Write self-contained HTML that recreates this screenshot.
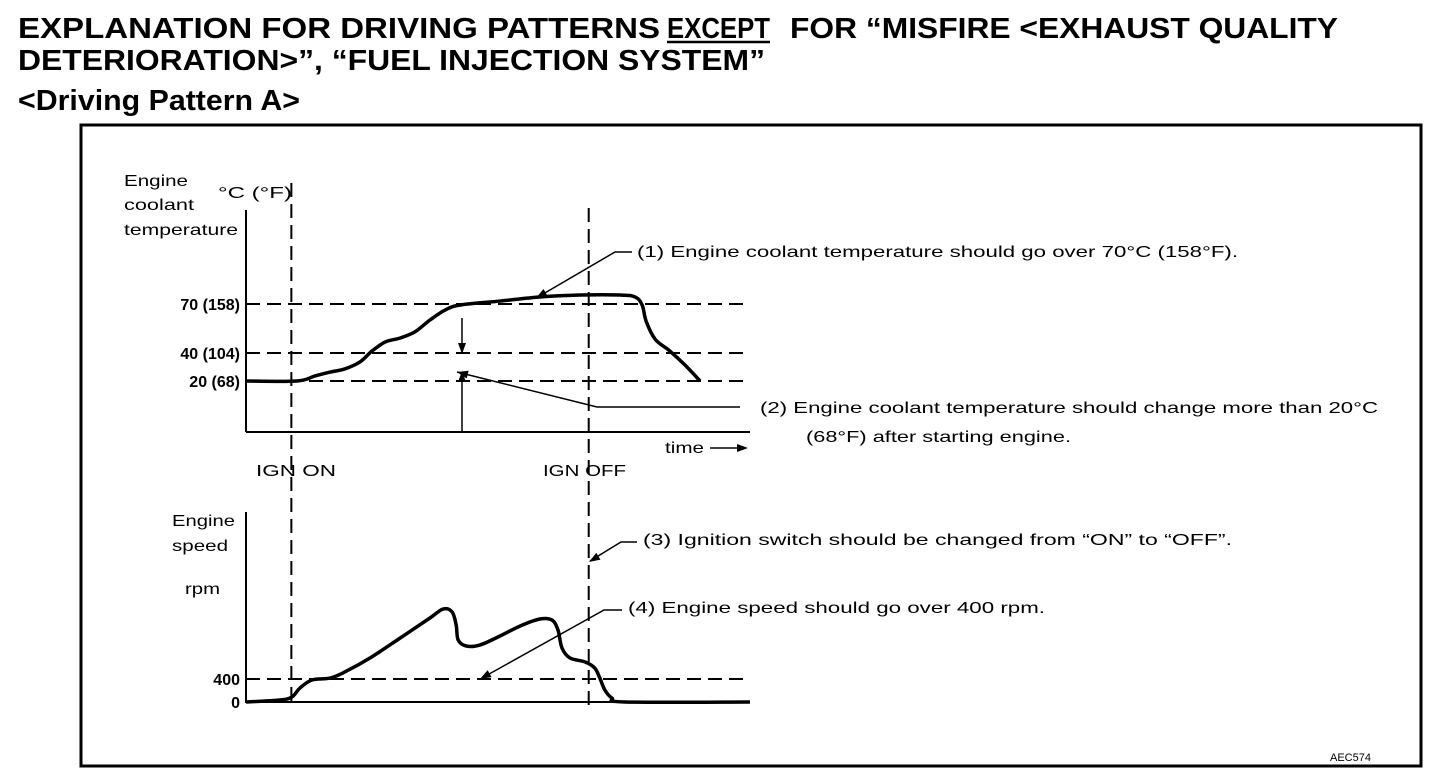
<!DOCTYPE html>
<html><head><meta charset="utf-8"><style>
html,body{margin:0;padding:0;background:#fff;}
svg{display:block;}
text{font-family:"Liberation Sans",sans-serif;fill:#000;}
.t{font-weight:bold;font-size:29px;}
.lb{font-size:16px;}
.tk{font-size:16px;font-weight:bold;}
</style></head><body>
<svg id="chart" width="1456" height="784" viewBox="0 0 1456 784" xmlns="http://www.w3.org/2000/svg">
<g>
<text class="t" x="18" y="38" textLength="642" lengthAdjust="spacingAndGlyphs">EXPLANATION FOR DRIVING PATTERNS</text>
<text class="t" x="667" y="38" textLength="103" lengthAdjust="spacingAndGlyphs">EXCEPT</text>
<line x1="667" y1="42" x2="770" y2="42" stroke="#000" stroke-width="2.5"/>
<text class="t" x="790" y="38" textLength="548" lengthAdjust="spacingAndGlyphs">FOR “MISFIRE &lt;EXHAUST QUALITY</text>
<text class="t" x="18" y="70" textLength="747" lengthAdjust="spacingAndGlyphs">DETERIORATION&gt;”, “FUEL INJECTION SYSTEM”</text>
<text class="t" x="18" y="110" textLength="282" lengthAdjust="spacingAndGlyphs">&lt;Driving Pattern A&gt;</text>
</g>
<rect x="81" y="125" width="1340" height="641" fill="none" stroke="#000" stroke-width="3"/>
<g id="marks"></g>
<text class="lb" x="124" y="186" textLength="64" lengthAdjust="spacingAndGlyphs">Engine</text>
<text class="lb" x="124" y="210" textLength="70" lengthAdjust="spacingAndGlyphs">coolant</text>
<text class="lb" x="124" y="235" textLength="114" lengthAdjust="spacingAndGlyphs">temperature</text>
<text class="lb" x="218" y="198" textLength="74" lengthAdjust="spacingAndGlyphs">°C (°F)</text>
<text class="lb" x="665" y="453" textLength="39" lengthAdjust="spacingAndGlyphs">time</text>
<text class="lb" x="256" y="476" textLength="80" lengthAdjust="spacingAndGlyphs">IGN ON</text>
<text class="lb" x="543" y="476" textLength="83" lengthAdjust="spacingAndGlyphs">IGN OFF</text>
<text class="lb" x="172" y="526" textLength="63" lengthAdjust="spacingAndGlyphs">Engine</text>
<text class="lb" x="172" y="551" textLength="56" lengthAdjust="spacingAndGlyphs">speed</text>
<text class="lb" x="185" y="594" textLength="35" lengthAdjust="spacingAndGlyphs">rpm</text>
<text class="lb" x="637" y="257" textLength="601" lengthAdjust="spacingAndGlyphs">(1)    Engine coolant temperature should go over 70°C (158°F).</text>
<text class="lb" x="760" y="413" textLength="618" lengthAdjust="spacingAndGlyphs">(2)    Engine coolant temperature should change more than 20°C</text>
<text class="lb" x="806" y="442" textLength="265" lengthAdjust="spacingAndGlyphs">(68°F) after starting engine.</text>
<text class="lb" x="643" y="545" textLength="589" lengthAdjust="spacingAndGlyphs">(3)    Ignition switch should be changed from “ON” to “OFF”.</text>
<text class="lb" x="628" y="613" textLength="417" lengthAdjust="spacingAndGlyphs">(4)    Engine speed should go over 400 rpm.</text>
<text x="1330" y="761" style="font-size:11px">AEC574</text>
</svg>
<script>
const tempTicks=[20,40,70];
const tempTickLabels=["20 (68)","40 (104)","70 (158)"];
const tempTime=[0,10.1,13.7,16.7,19.6,22.6,25,27.6,30.6,33.5,36.5,39.5,42.5,50.4,58.3,66.3,74.2,77.2,78.6,79.4,81.2,84.1,87.1,90.1];
const tempValues=[20,20,23.6,26.4,28.6,33.6,41.2,46.7,49.2,52.9,60.2,66.3,69.4,71.8,74.3,75.5,75.5,74.3,69.4,59.4,48.4,41.2,31.4,20];
const rpmTicks=[0,400];
const rpmTickLabels=["0","400"];
const rpmTime=[0,6.7,9.1,10.7,13.1,16.7,19.6,24.6,30.6,36.5,39.1,40.9,41.7,42.1,43.7,46.4,50.4,54.4,58.3,60.7,61.9,62.7,64.3,67.3,69.2,70.2,71.2,72.6,75.2,100];
const rpmValues=[0,35,87,243,383,417,522,765,1113,1461,1617,1565,1339,1078,974,991,1148,1322,1443,1426,1252,939,765,696,591,417,209,70,0,0];
const ignOnTime=9, ignOffTime=68;

const NS="http://www.w3.org/2000/svg";
const g=document.getElementById('marks');
const X0=246,X1=750;
const xs=t=>X0+(X1-X0)*t/100;
const ys=v=>{
  if(v<=40)return 381+(v-20)*(353-381)/20;
  return 353+(v-40)*(304-353)/30;
};
const yr=v=>702-v*0.0575;
function el(tag,attrs,name){const e=document.createElementNS(NS,tag);for(const k in attrs)e.setAttribute(k,attrs[k]);


g.appendChild(e);return e;}
function line(x1,y1,x2,y2,w,dash,name){return el('line',{x1,y1,x2,y2,stroke:'#000','stroke-width':w,'stroke-dasharray':dash||'none'},name);}
function smooth(pts){let d=`M${pts[0][0]},${pts[0][1]}`;for(let i=1;i<pts.length;i++){const p0=pts[i-2]||pts[i-1],p1=pts[i-1],p2=pts[i],p3=pts[i+1]||p2;
d+=` C${p1[0]+(p2[0]-p0[0])/6},${p1[1]+(p2[1]-p0[1])/6} ${p2[0]-(p3[0]-p1[0])/6},${p2[1]-(p3[1]-p1[1])/6} ${p2[0]},${p2[1]}`;}return d;}
function arrowHead(x,y,ang,name){const L=11,W=4;const a=ang;
const p=[[x,y],[x-L*Math.cos(a)+W*Math.sin(a),y-L*Math.sin(a)-W*Math.cos(a)],[x-L*Math.cos(a)-W*Math.sin(a),y-L*Math.sin(a)+W*Math.cos(a)]];
el('polygon',{points:p.map(q=>q.join(',')).join(' '),fill:'#000'},name);}

line(X0,210,X0,432,2,null,'temp-y-axis');
line(X0,432,X1,432,2,null,'temp-x-axis');
line(X0,512,X0,703,2,null,'rpm-y-axis');
line(X0,702,X1,702,2,null,'rpm-x-axis');
line(710,448,745,448,1.5,null,'time-arrow');arrowHead(748,448,0,'time-arrow-head');
tempTicks.forEach((v,i)=>{line(X0,ys(v),X1,ys(v),2,'14 7','temp-gridline-'+v);
const t=el('text',{x:240,y:ys(v)+6,'text-anchor':'end',class:'tk'},'temp-tick-label');t.textContent=tempTickLabels[i];});
rpmTicks.forEach((v,i)=>{if(v>0)line(X0,yr(v),X1,yr(v),2,'14 7','rpm-gridline-'+v);
const t=el('text',{x:240,y:yr(v)+6,'text-anchor':'end',class:'tk'},'rpm-tick-label');t.textContent=rpmTickLabels[i];});
const xOn=xs(ignOnTime), xOff=xs(ignOffTime);
line(xOn,183,xOn,706,2,'14 7','ign-on-line');
line(xOff,208,xOff,706,2,'14 7','ign-off-line');
el('path',{d:smooth(tempTime.map((t,i)=>[xs(t),ys(tempValues[i])])),fill:'none',stroke:'#000','stroke-width':3.5,'stroke-linejoin':'round'},'coolant-temp-curve');
el('path',{d:smooth(rpmTime.map((t,i)=>[xs(t),yr(rpmValues[i])])),fill:'none',stroke:'#000','stroke-width':3.5,'stroke-linejoin':'round'},'engine-speed-curve');
el('polyline',{points:'538,297 615,252 632,252',fill:'none',stroke:'#000','stroke-width':1.5},'leader-1');
arrowHead(536,298,Math.atan2(297-252,538-615),'leader-1-head');
el('polyline',{points:'457,372 597,407 740,407',fill:'none',stroke:'#000','stroke-width':1.5},'leader-2');
arrowHead(457,372,Math.atan2(372-407,457-597),'leader-2-head');
line(462,318,462,352,1.5,null,'delta-arrow-top');arrowHead(462,354,Math.PI/2,'delta-arrow-top-head');
line(462,432,462,373,1.5,null,'delta-arrow-bottom');arrowHead(462,371,-Math.PI/2,'delta-arrow-bottom-head');
el('polyline',{points:'590,561 621,542 637,542',fill:'none',stroke:'#000','stroke-width':1.5},'leader-3');
arrowHead(589,562,Math.atan2(561-542,590-621),'leader-3-head');
el('polyline',{points:'482,678 604,610 622,610',fill:'none',stroke:'#000','stroke-width':1.5},'leader-4');
arrowHead(480,679,Math.atan2(678-610,482-604),'leader-4-head');
</script>
</body></html>
